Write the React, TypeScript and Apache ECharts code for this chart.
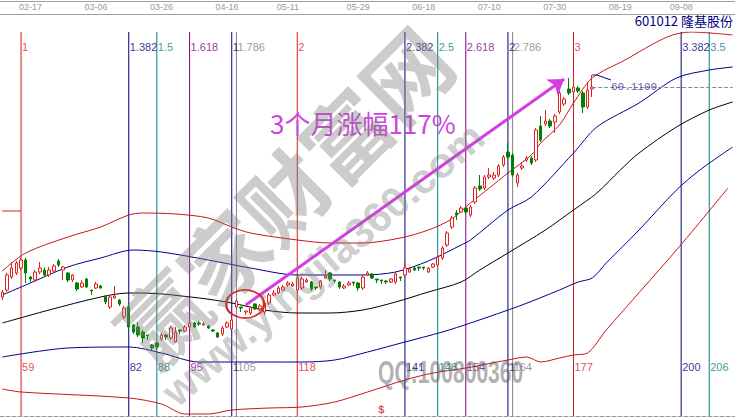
import React, { useEffect, useRef } from 'react';
import * as echarts from 'echarts';

const START = 55;
const END = 211;
const categories: string[] = Array.from({ length: END - START + 1 }, (_, k) => String(START + k));

// [open, close, low, high], first bar = 55
const candles: number[][] = [
  [28.61, 29.36, 28.16, 29.66], [29.66, 31.91, 29.36, 32.21], [31.61, 32.96, 31.31, 33.86], [32.21, 33.71, 31.91, 34.01],
  [32.96, 34.16, 32.66, 34.46], [34.16, 32.21, 30.71, 34.46], [31.61, 31.31, 30.86, 31.76], [31.16, 32.36, 30.86, 32.66],
  [32.36, 32.96, 32.06, 33.86], [32.66, 31.91, 31.61, 33.06], [31.91, 32.66, 31.61, 33.11], [32.51, 33.26, 32.21, 33.56],
  [34.01, 33.41, 33.11, 34.31], [32.66, 33.11, 31.16, 33.26], [32.21, 31.16, 30.86, 32.36], [31.16, 31.91, 30.86, 32.06],
  [30.71, 29.81, 29.51, 30.86], [30.11, 30.71, 29.96, 31.16], [31.31, 30.11, 29.96, 31.46], [29.66, 29.51, 28.91, 29.66],
  [29.96, 30.56, 29.81, 30.86], [30.26, 29.96, 29.81, 30.41], [28.76, 27.86, 27.56, 28.91], [27.11, 28.61, 26.81, 28.91],
  [28.46, 28.76, 28.31, 30.26], [28.16, 27.56, 27.26, 28.31], [25.61, 26.96, 25.31, 27.26], [27.11, 24.11, 23.81, 27.26],
  [24.41, 23.36, 23.06, 24.56], [24.11, 22.91, 22.61, 24.86], [23.36, 22.46, 21.71, 23.66], [22.91, 22.76, 22.16, 22.91],
  [21.41, 20.96, 20.66, 21.56], [21.71, 21.11, 20.66, 21.86], [22.31, 22.91, 22.01, 23.21], [22.91, 22.61, 22.16, 23.06],
  [22.46, 23.96, 22.16, 24.26], [21.86, 23.36, 21.71, 24.11], [23.66, 23.51, 23.06, 23.66], [23.51, 24.11, 23.36, 24.41],
  [24.11, 24.71, 23.96, 25.01], [24.71, 24.11, 23.96, 24.86], [24.71, 24.56, 24.26, 25.01], [24.41, 24.56, 24.26, 24.86],
  [24.26, 23.96, 23.81, 24.41], [23.66, 23.51, 23.36, 23.81], [23.21, 22.61, 22.46, 23.36], [23.06, 23.96, 22.76, 24.26],
  [24.11, 24.71, 23.96, 25.01], [23.81, 25.16, 23.66, 25.46], [27.11, 28.01, 26.81, 28.31], [27.11, 26.96, 26.36, 27.11],
  [26.36, 26.51, 25.91, 26.51], [26.21, 27.11, 25.91, 27.26], [27.56, 26.81, 26.66, 27.71], [26.81, 27.26, 26.51, 27.56],
  [26.36, 27.71, 25.91, 28.01], [27.71, 28.91, 27.41, 29.21], [28.91, 29.21, 28.76, 29.66], [29.21, 29.96, 29.06, 30.26],
  [29.66, 30.11, 29.51, 30.41], [30.41, 30.71, 30.11, 31.01], [30.26, 30.56, 30.11, 30.86], [29.66, 31.46, 29.36, 31.76],
  [29.96, 31.31, 29.66, 31.61], [30.86, 31.16, 30.71, 31.46], [30.86, 29.81, 29.51, 31.01], [30.11, 29.96, 29.66, 30.11],
  [30.11, 31.01, 29.81, 31.16], [31.46, 31.76, 31.31, 32.66], [32.21, 31.31, 31.01, 32.36], [31.16, 31.01, 30.71, 31.16],
  [30.86, 30.11, 29.81, 31.01], [29.96, 30.26, 29.81, 30.56], [30.41, 30.71, 30.26, 31.01], [30.86, 30.71, 30.26, 30.86],
  [30.71, 29.96, 29.51, 30.86], [29.96, 31.61, 29.66, 31.91], [31.91, 32.21, 31.76, 32.51], [32.06, 31.46, 31.31, 32.21],
  [31.31, 31.16, 30.71, 31.31], [31.16, 31.01, 30.56, 31.16], [31.01, 30.86, 30.56, 31.16], [30.86, 31.31, 30.71, 31.46],
  [30.86, 32.06, 30.56, 32.36], [31.61, 31.46, 31.01, 31.61], [31.91, 32.96, 31.61, 33.86], [32.36, 32.81, 32.21, 33.11],
  [32.96, 32.66, 32.51, 33.11], [33.11, 32.96, 32.51, 33.11], [33.11, 32.96, 32.66, 33.11], [32.36, 32.96, 32.21, 33.11],
  [33.11, 33.56, 32.96, 33.71], [33.41, 34.61, 33.11, 34.91], [34.46, 35.96, 34.16, 36.26], [36.41, 38.21, 36.11, 38.51],
  [39.11, 40.46, 38.81, 40.76], [41.21, 40.91, 40.16, 41.66], [41.36, 41.96, 41.21, 42.26], [41.96, 41.36, 41.06, 42.11],
  [40.91, 42.11, 40.61, 42.41], [42.86, 44.96, 42.56, 45.26], [45.26, 44.81, 44.51, 46.91], [44.96, 46.61, 44.66, 46.91],
  [46.61, 46.91, 46.31, 47.96], [46.46, 46.91, 46.16, 47.36], [46.91, 48.26, 46.61, 48.56], [48.41, 49.61, 48.11, 49.91],
  [50.36, 49.61, 49.31, 51.71], [49.91, 46.91, 46.61, 50.21], [45.71, 46.91, 45.11, 47.21], [47.96, 48.26, 47.66, 48.71],
  [49.16, 49.46, 48.86, 49.76], [49.46, 48.71, 48.41, 49.76], [49.16, 53.66, 48.86, 53.96], [54.26, 52.16, 51.86, 55.76],
  [54.56, 55.01, 54.26, 56.66], [55.01, 54.26, 53.96, 55.31], [54.86, 55.76, 53.21, 56.06], [56.36, 59.21, 56.06, 59.51],
  [57.56, 58.31, 57.26, 58.61], [59.81, 59.21, 58.91, 61.46], [59.36, 60.11, 59.06, 60.41], [59.96, 59.51, 59.21, 60.26],
  [59.21, 57.11, 56.21, 59.51], [57.11, 59.66, 56.81, 60.86], [59.81, 60.11, 58.61, 61.91],
];

const upperRed: number[][] = [
  [55, 32.51], [60, 35.21], [69, 37.61], [76, 39.11], [82, 40.91], [85, 41.21], [92, 41.06], [99, 40.46],
  [104, 39.11], [108, 38.21], [118, 37.16], [125, 36.71], [132, 36.71], [140, 37.46], [146, 38.66], [151, 40.31],
  [155, 42.71], [159, 44.96], [163, 47.21], [168, 49.91], [170, 51.71], [174, 54.41], [177, 57.71], [181, 61.46],
  [188, 64.16], [197, 67.61], [202, 68.36], [211, 67.91],
];
const upperBlue: number[][] = [
  [55, 28.91], [60, 30.41], [69, 33.11], [76, 34.46], [83, 35.66], [89, 35.36], [99, 34.16], [108, 32.96],
  [118, 31.91], [125, 31.91], [132, 31.91], [139, 32.36], [146, 34.01], [153, 36.41], [155, 37.16], [163, 41.66],
  [168, 43.61], [177, 50.21], [182, 54.11], [191, 57.71], [199, 61.46], [206, 62.66], [211, 63.11],
];
const middleBlack: number[][] = [
  [55, 24.71], [65, 26.66], [76, 28.61], [82, 29.21], [85, 29.21], [97, 28.46], [104, 27.71], [111, 26.66],
  [118, 26.21], [125, 26.21], [132, 26.66], [139, 27.86], [146, 29.36], [153, 30.86], [157, 32.66], [163, 35.21],
  [171, 38.66], [177, 41.66], [182, 44.21], [187, 47.66], [191, 50.21], [199, 54.11], [206, 56.66], [211, 57.86],
];
const lowerBlue: number[][] = [
  [55, 19.61], [69, 20.96], [82, 21.11], [89, 20.21], [97, 18.86], [112, 18.86], [119, 18.86], [126, 19.16],
  [133, 20.36], [141, 21.86], [149, 23.36], [155, 24.71], [166, 27.41], [174, 29.66], [178, 30.86], [181, 31.46],
  [184, 33.71], [191, 38.66], [199, 44.66], [204, 47.66], [211, 51.11],
];
const lowerRed: number[][] = [
  [55, 14.81], [59, 14.36], [82, 13.46], [89, 12.56], [94, 11.06], [99, 11.06], [104, 11.66], [112, 11.96],
  [119, 12.11], [126, 12.86], [133, 14.36], [141, 16.16], [147, 17.21], [154, 17.96], [163, 19.16], [167, 19.61],
  [170, 18.86], [174, 19.46], [177, 19.91], [180, 20.21], [184, 23.66], [199, 35.66], [210, 44.96],
];

const RED = '#d41c1c';
const NAVY = '#000080';
const TEAL = '#008080';
const PURPLE = '#800080';
const GRAY = '#808080';

const fibIdx = [59, 82, 88, 95, 104, 105, 118, 141, 148, 154, 163, 164, 177, 200, 206];
const fibTop = ['1', '1.382', '1.5', '1.618', '1', '1.786', '2', '2.382', '2.5', '2.618', '2', '2.786', '3', '3.382', '3.5'];
const fibBottom = ['59', '82', '88', '95', '1', '105', '118', '141', '148', '154', '1', '164', '177', '200', '206'];
const fibColor = [RED, NAVY, TEAL, PURPLE, NAVY, GRAY, RED, NAVY, TEAL, PURPLE, NAVY, GRAY, RED, NAVY, TEAL];

const dateIdx = [61, 75, 89, 103, 116, 131, 145, 159, 173, 187, 200];
const dateLabels = ['02-17', '03-06', '03-26', '04-16', '05-11', '05-29', '06-18', '07-10', '07-30', '08-19', '09-08'];

const Y_MIN = 10.76;
const Y_MAX = 68.36;
const lastClose = 60.11;
const lastHigh = 61.91;
const leftMark = 41.51;
const fibTopLevel = 66.11;
const fibBottomLevel = 18.11;
const arrowFrom = ['107', 27.41];
const arrowTo = ['175', 61.31];
const circleAt = ['106', 27.56];

const SANS = '"Liberation Sans", Arial, sans-serif';
const MONO = '"Liberation Mono", "DejaVu Sans Mono", monospace';
const CJK = '"Noto Sans CJK SC", "Noto Sans", sans-serif';

function band(points: number[][], color: string) {
  return {
    type: 'line',
    data: points.map(([i, v]) => [String(i), v]),
    smooth: 0.3,
    symbol: 'none',
    silent: true,
    lineStyle: { color, width: 1 },
    z: 3,
  };
}

export default function App() {
  const ref = useRef<HTMLDivElement>(null);
  useEffect(() => {
    if (!ref.current) return;
    const chart = echarts.init(ref.current, undefined, { renderer: 'svg' });
    const dateMap: Record<string, string> = {};
    dateIdx.forEach((d, k) => (dateMap[String(d)] = dateLabels[k]));

    const labelItems: any[] = [];
    fibIdx.forEach((i, k) => {
      labelItems.push({ name: fibTop[k], value: [String(i), fibTopLevel], label: { color: fibColor[k] } });
      labelItems.push({ name: fibBottom[k], value: [String(i), fibBottomLevel], label: { color: fibColor[k] } });
    });
    labelItems.push({
      name: '60.1100',
      value: ['185', lastClose],
      label: { color: '#2a2a9c', fontSize: 11, distance: 0, fontFamily: MONO },
    });

    const fibLines = fibIdx.map((i, k) => ({
      type: 'line',
      data: [[String(i), Y_MIN], [String(i), Y_MAX]],
      symbol: 'none',
      silent: true,
      z: 2,
      lineStyle: { color: fibColor[k], width: 1 },
    }));

    chart.setOption({
      animation: false,
      backgroundColor: '#ffffff',
      grid: { left: 0, right: 0, top: 32, bottom: 4, containLabel: false },
      xAxis: [
        {
          type: 'category',
          data: categories,
          boundaryGap: true,
          axisLine: { show: true, lineStyle: { color: '#9a9a9a', type: 'dashed', width: 1 } },
          axisTick: { show: false },
          axisLabel: { show: false },
          splitLine: { show: false },
        },
        {
          type: 'category',
          data: categories,
          position: 'top',
          offset: 18,
          boundaryGap: true,
          axisLine: { show: true, lineStyle: { color: '#a0a0a0', width: 1 } },
          axisTick: { show: false },
          axisLabel: {
            show: true,
            interval: (_: number, v: string) => dateMap[v] !== undefined,
            formatter: (v: string) => dateMap[v] || '',
            color: '#9a9a9a',
            fontSize: 9,
            margin: 3,
            fontFamily: SANS,
          },
        },
      ],
      yAxis: { type: 'value', min: Y_MIN, max: Y_MAX, show: false, splitLine: { show: false } },
      series: [
        ...fibLines,
        {
          type: 'candlestick',
          data: candles,
          barWidth: 3,
          z: 4,
          itemStyle: { color: '#ffffff', color0: '#008000', borderColor: '#e02222', borderColor0: '#008000', borderWidth: 1 },
          markLine: {
            silent: true,
            symbol: 'none',
            animation: false,
            label: { show: false },
            lineStyle: { color: '#888888', width: 1, type: 'dashed' },
            data: [[{ coord: ['181', lastClose] }, { coord: ['211', lastClose] }]],
          },
          markPoint: {
            silent: true,
            animation: false,
            data: [
              {
                coord: circleAt,
                symbol: 'circle',
                symbolSize: [38, 28],
                symbolOffset: [4, 0],
                itemStyle: { color: 'rgba(0,0,0,0)', borderColor: '#e02020', borderWidth: 2 },
                label: { show: false },
              },
            ],
          },
        },
        band(upperRed, '#c41818'),
        band(upperBlue, '#00008c'),
        band(middleBlack, '#000000'),
        band(lowerBlue, '#00008c'),
        band(lowerRed, '#c41818'),
        {
          type: 'line',
          data: [['55', leftMark], ['59', leftMark]],
          symbol: 'none',
          silent: true,
          lineStyle: { color: RED, width: 1 },
        },
        {
          type: 'line',
          data: [['181', lastHigh], ['182', lastHigh], ['185', 61.16]],
          symbol: 'none',
          silent: true,
          z: 6,
          lineStyle: { color: NAVY, width: 1 },
        },
        {
          type: 'scatter',
          data: labelItems,
          symbolSize: 0,
          silent: true,
          z: 7,
          label: {
            show: true,
            position: 'right',
            distance: 1,
            formatter: '{b}',
            fontSize: 11,
            fontFamily: SANS,
          },
          markLine: {
            silent: true,
            animation: false,
            symbol: ['none', 'arrow'],
            symbolSize: 15,
            label: { show: false },
            lineStyle: { color: '#d23ee0', width: 3, type: 'solid' },
            data: [[{ coord: arrowFrom }, { coord: arrowTo }]],
          },
        },
      ],
      graphic: [
        { type: 'line', shape: { x1: 0, y1: 1.5, x2: 735, y2: 1.5 }, style: { stroke: '#a0a0a0', lineWidth: 1 }, silent: true },
        {
          type: 'text', x: 733, y: 20, silent: true,
          style: { text: '601012 隆基股份', fill: NAVY, font: `13px ${CJK}`, align: 'right', verticalAlign: 'middle' },
        },
        {
          type: 'text', x: 270, y: 122, silent: true, z: 20,
          style: { text: '3个月涨幅117%', fill: '#cc44dd', font: `26px ${CJK}`, align: 'left', verticalAlign: 'middle' },
        },
        {
          type: 'text', x: 378, y: 410, silent: true,
          style: { text: '$', fill: RED, font: `11px ${MONO}`, align: 'left', verticalAlign: 'middle' },
        },
        {
          type: 'text', x: 282, y: 194, rotation: Math.PI / 4, silent: true, z: 100,
          style: { text: '赢家财富网', fill: 'rgba(128,128,128,0.4)', font: `bold 86px ${CJK}`, align: 'center', verticalAlign: 'middle' },
        },
        {
          type: 'text', x: 323, y: 264, rotation: 0.71, silent: true, z: 100,
          style: { text: 'www.yingjia360.com', fill: 'rgba(128,128,128,0.4)', font: `bold 42px ${SANS}`, align: 'center', verticalAlign: 'middle' },
        },
        {
          type: 'text', x: 378, y: 372, scaleX: 0.68, silent: true, z: 100,
          style: { text: 'QQ:100800360', fill: 'rgba(100,100,100,0.5)', font: `bold 31px ${SANS}`, align: 'left', verticalAlign: 'middle' },
        },
      ],
    });
    return () => chart.dispose();
  }, []);
  return <div ref={ref} style={{ position: 'absolute', left: 0, top: 0, width: 735, height: 420 }} />;
}
